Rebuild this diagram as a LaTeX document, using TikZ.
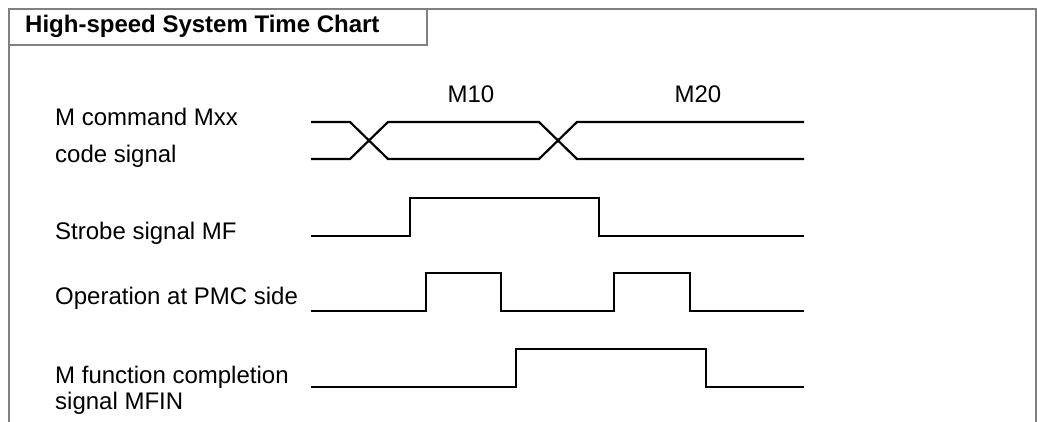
\documentclass[tikz,border=0pt]{standalone}
\usepackage{fontspec}
\setmainfont{Liberation Sans}
\begin{document}
\begin{tikzpicture}[x=1pt,y=-1pt,
  frame/.style={draw=black!50,line width=1.6pt},
  wave/.style={draw=black,line width=2.2pt,line join=miter},
  lbl/.style={anchor=base west,inner sep=0pt,font=\fontsize{24}{28}\selectfont},
  ttl/.style={anchor=base west,inner sep=0pt,font=\fontsize{24}{28}\selectfont\bfseries},
  mlbl/.style={anchor=base,inner sep=0pt,font=\fontsize{24}{28}\selectfont}]
\useasboundingbox (0,0) rectangle (1037,422);
% frame
\draw[frame] (9,422) -- (9,9) -- (1036,9) -- (1036,422);
\draw[frame] (9,45) -- (427,45) -- (427,9);
\node[ttl] (title) at (25,33) {High-speed System Time Chart};
% labels
\node[lbl] (l1) at (55,126) {M command Mxx};
\node[lbl] (l2) at (55,163) {code signal};
\node[lbl] (l3) at (55,240) {Strobe signal MF};
\node[lbl] (l4) at (55,305) {Operation at PMC side};
\node[lbl] (l5) at (55,383) {M function completion};
\node[lbl] (l6) at (55,409) {signal MFIN};
\node[mlbl] (m10) at (471,103) {M10};
\node[mlbl] (m20) at (698,103) {M20};
% code signal
\draw[wave] (311,122) -- (350,122) -- (388,159) -- (539,159) -- (577,122) -- (804,122);
\draw[wave] (311,159) -- (350,159) -- (388,122) -- (539,122) -- (577,159) -- (804,159);
% strobe MF
\draw[wave] (311,236) -- (410,236) -- (410,198) -- (599,198) -- (599,236) -- (804,236);
% PMC operation
\draw[wave] (311,311) -- (426,311) -- (426,273) -- (501,273) -- (501,311) -- (614,311) -- (614,273) -- (690,273) -- (690,311) -- (804,311);
% MFIN
\draw[wave] (311,387) -- (516,387) -- (516,349) -- (706,349) -- (706,387) -- (804,387);
\end{tikzpicture}
\end{document}
